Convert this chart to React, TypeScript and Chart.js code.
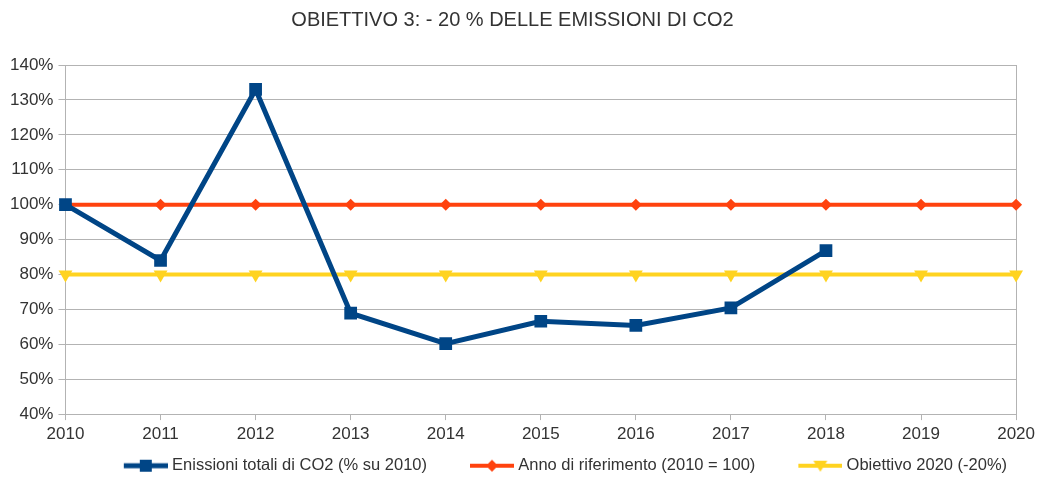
import React, { useEffect, useRef } from "react";
import { Chart, registerables } from "chart.js";

Chart.register(...registerables);

const TITLE = "OBIETTIVO 3: - 20 % DELLE EMISSIONI DI CO2";
const years = ["2010", "2011", "2012", "2013", "2014", "2015", "2016", "2017", "2018", "2019", "2020"];
const emissions: (number | null)[] = [100, 84.0, 133.0, 68.9, 60.2, 66.6, 65.4, 70.4, 86.8, null, null];
const reference = [100, 100, 100, 100, 100, 100, 100, 100, 100, 100, 100];
const target = [80, 80, 80, 80, 80, 80, 80, 80, 80, 80, 80];
const seriesLabels = [
  "Enissioni totali di CO2 (% su 2010)",
  "Anno di riferimento (2010 = 100)",
  "Obiettivo 2020 (-20%)",
];
const BLUE = "#004586";
const RED = "#ff420e";
const YELLOW = "#ffd320";
const GRID = "#b3b3b3";
const TEXT = "#333333";
const FONT = "'Liberation Sans', Arial, sans-serif";
const LEGEND_BOX = 74;

function makeLegendImage(color: string, lw: number, marker: string): HTMLCanvasElement {
  const c = document.createElement("canvas");
  const W = LEGEND_BOX + 8;
  const H = 20;
  c.width = W;
  c.height = H;
  const g = c.getContext("2d")!;
  const x0 = W - 44;
  const cx = x0 + 22;
  const cy = H / 2;
  g.strokeStyle = color;
  g.lineWidth = lw;
  g.beginPath();
  g.moveTo(x0, cy);
  g.lineTo(W, cy);
  g.stroke();
  g.fillStyle = color;
  g.beginPath();
  if (marker === "square") {
    g.rect(cx - 6, cy - 6, 12, 12);
  } else if (marker === "diamond") {
    g.moveTo(cx, cy - 6);
    g.lineTo(cx + 6, cy);
    g.lineTo(cx, cy + 6);
    g.lineTo(cx - 6, cy);
    g.closePath();
  } else {
    g.moveTo(cx - 7, cy - 5);
    g.lineTo(cx + 7, cy - 5);
    g.lineTo(cx, cy + 6);
    g.closePath();
  }
  g.fill();
  return c;
}

export default function App() {
  const ref = useRef<HTMLCanvasElement | null>(null);
  useEffect(() => {
    document.body.style.margin = "0";
    const imgs = [
      makeLegendImage(BLUE, 5, "square"),
      makeLegendImage(RED, 4, "diamond"),
      makeLegendImage(YELLOW, 4, "triangle"),
    ];
    const chart = new Chart(ref.current!, {
      type: "line",
      data: {
        labels: years,
        datasets: [
          {
            label: seriesLabels[0],
            data: emissions,
            borderColor: BLUE,
            backgroundColor: BLUE,
            borderWidth: 5,
            pointStyle: "rect",
            pointRadius: 9,
            pointHoverRadius: 9,
            pointBorderWidth: 0,
            tension: 0,
            order: 0,
          },
          {
            label: seriesLabels[1],
            data: reference,
            borderColor: RED,
            backgroundColor: RED,
            borderWidth: 4,
            pointStyle: "rectRot",
            pointRadius: 6,
            pointHoverRadius: 6,
            pointBorderWidth: 0,
            tension: 0,
            order: 1,
          },
          {
            label: seriesLabels[2],
            data: target,
            borderColor: YELLOW,
            backgroundColor: YELLOW,
            borderWidth: 4,
            pointStyle: "triangle",
            rotation: 180,
            pointRadius: 8,
            pointHoverRadius: 8,
            pointBorderWidth: 0,
            tension: 0,
            order: 2,
          },
        ],
      },
      options: {
        animation: false,
        responsive: true,
        maintainAspectRatio: false,
        layout: { padding: { left: 5, right: 19, top: 0, bottom: -4 } },
        plugins: {
          title: {
            display: true,
            text: TITLE,
            color: TEXT,
            font: { family: FONT, size: 20, weight: "normal" },
            padding: { top: 8, bottom: 33 },
          },
          legend: {
            position: "bottom",
            fullSize: false,
            align: "end",
            labels: {
              usePointStyle: true,
              pointStyleWidth: LEGEND_BOX,
              padding: 9,
              color: TEXT,
              font: { family: FONT, size: 16.5 },
              generateLabels: (ch: any) =>
                ch.data.datasets.map((ds: any, i: number) => ({
                  text: ds.label,
                  pointStyle: imgs[i],
                  datasetIndex: i,
                  hidden: false,
                  lineWidth: 0,
                  strokeStyle: "transparent",
                  fillStyle: "transparent",
                  fontColor: TEXT,
                })),
            },
          },
          tooltip: { enabled: false },
        },
        scales: {
          x: {
            type: "category",
            offset: false,
            grid: {
              display: true,
              drawOnChartArea: true,
              color: (ctx: any) => (ctx.index === years.length - 1 ? GRID : "rgba(0,0,0,0)"),
              tickColor: GRID,
              tickLength: 6,
            },
            border: { display: true, color: GRID },
            ticks: {
              color: TEXT,
              font: { family: FONT, size: 17 },
              padding: 4,
              maxRotation: 0,
              autoSkip: false,
            },
          },
          y: {
            min: 40,
            max: 140,
            grid: { color: GRID, tickColor: GRID, tickLength: 7 },
            border: { display: true, color: GRID },
            ticks: {
              stepSize: 10,
              color: TEXT,
              font: { family: FONT, size: 17 },
              padding: 5,
              callback: (v: any) => v + "%",
            },
          },
        },
      },
    });
    return () => chart.destroy();
  }, []);
  return (
    <div style={{ position: "absolute", left: 0, top: 0, width: 1039, height: 480 }}>
      <canvas ref={ref} />
    </div>
  );
}
